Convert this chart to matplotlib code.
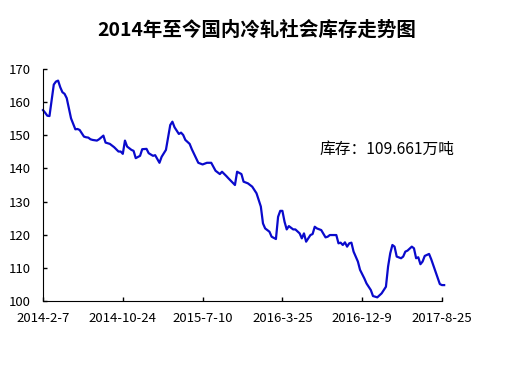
import pandas as pd
import matplotlib
matplotlib.use('Agg')
import matplotlib.pyplot as plt

plt.rcParams['font.family'] = ['Noto Sans CJK SC', 'DejaVu Sans']

# weekly inventory, week number counted from 2014-2-7
weeks = [0, 1, 2, 3, 4, 5, 6, 7, 8, 9, 10, 11, 12, 13, 15, 16, 17, 18, 19, 20,
         21, 22, 23, 25, 26, 28, 29, 31, 33, 35, 36, 37, 38, 39, 41, 42, 43, 45,
         46, 48, 49, 51, 52, 54, 55, 57, 59, 60, 61, 63, 64, 65, 66, 68, 69, 71,
         72, 74, 76, 78, 80, 82, 83, 85, 86, 89, 90, 92, 93, 95, 97, 99, 100,
         101, 102, 103, 105, 106, 108, 109, 110, 111, 112, 113, 114, 116, 117,
         118, 119, 120, 121, 122, 123, 124, 125, 126, 127, 129, 131, 132, 133,
         136, 137, 138, 139, 140, 141, 142, 143, 144, 146, 147, 149, 150, 152,
         153, 155, 157, 159, 160, 161, 162, 163, 164, 166, 167, 168, 169, 171,
         172, 173, 174, 175, 176, 177, 179, 180, 182, 184, 185, 186]
stock = [157.6, 156.8, 155.9, 155.8, 160.5, 165.3, 166.2, 166.5, 164.5, 163.0,
         162.5, 161.2, 158.1, 155.1, 151.8, 151.9, 151.6, 150.6, 149.6, 149.4,
         149.3, 148.8, 148.6, 148.4, 148.8, 149.9, 147.8, 147.4, 146.4, 145.1,
         145.1, 144.4, 148.4, 146.6, 145.6, 145.3, 143.1, 143.8, 145.8, 145.9,
         144.6, 143.8, 144.0, 141.7, 143.5, 145.6, 153.1, 154.1, 152.4, 150.4,
         150.8, 150.1, 148.6, 147.4, 145.8, 143.1, 141.7, 141.2, 141.7, 141.7,
         139.3, 138.3, 139.0, 137.7, 137.0, 135.0, 139.0, 138.3, 136.0, 135.5,
         134.5, 132.5, 130.5, 128.5, 123.4, 121.9, 120.9, 119.4, 118.7, 125.4,
         127.2, 127.2, 123.9, 121.6, 122.6, 121.6, 121.6, 121.0, 120.4, 118.9,
         120.4, 117.9, 118.9, 119.9, 120.2, 122.4, 121.9, 121.4, 119.2, 119.4,
         119.9, 119.9, 117.4, 117.6, 116.9, 117.7, 116.4, 117.4, 117.6, 114.9,
         111.9, 109.4, 106.8, 105.3, 103.3, 101.5, 101.1, 102.3, 104.3, 110.4,
         114.4, 116.9, 116.4, 113.4, 112.9, 113.4, 114.9, 115.2, 116.4, 115.9,
         112.9, 113.2, 111.1, 111.9, 113.6, 114.2, 112.6, 108.8, 105.1, 104.8,
         104.8]
tick_labels = ['2014-2-7', '2014-10-24', '2015-7-10', '2016-3-25', '2016-12-9', '2017-8-25']

start = pd.Timestamp('2014-02-07')
dates = [start + pd.Timedelta(weeks=w) for w in weeks]
tick_dates = [pd.Timestamp(t) for t in tick_labels]

fig = plt.figure(figsize=(5.14, 3.69), dpi=100)
ax = fig.add_axes([43 / 514, 1 - 301 / 369, 399 / 514, 232 / 369])
ax.plot(dates, stock, color='#0A0ACC', lw=1.6, clip_on=False)

ax.set_ylim(100, 170)
ax.set_yticks(range(100, 171, 10))
ax.set_xlim(tick_dates[0], tick_dates[-1])
ax.set_xticks(tick_dates)
ax.set_xticklabels(tick_labels)
ax.tick_params(direction='in', length=3, width=1, labelsize=9.5, colors='black')
ax.tick_params(axis='x', pad=8)
ax.tick_params(axis='y', pad=9)
for s in ['top', 'right']:
    ax.spines[s].set_visible(False)

fig.text(0.5, 1 - 30 / 369, '2014年至今国内冷轧社会库存走势图', ha='center', va='center',
         fontsize=14, fontweight='bold')
fig.text(319 / 514, 1 - 149 / 369, '库存：109.661万吨', ha='left', va='center', fontsize=11.3)

fig.savefig('out.png', dpi=100)
